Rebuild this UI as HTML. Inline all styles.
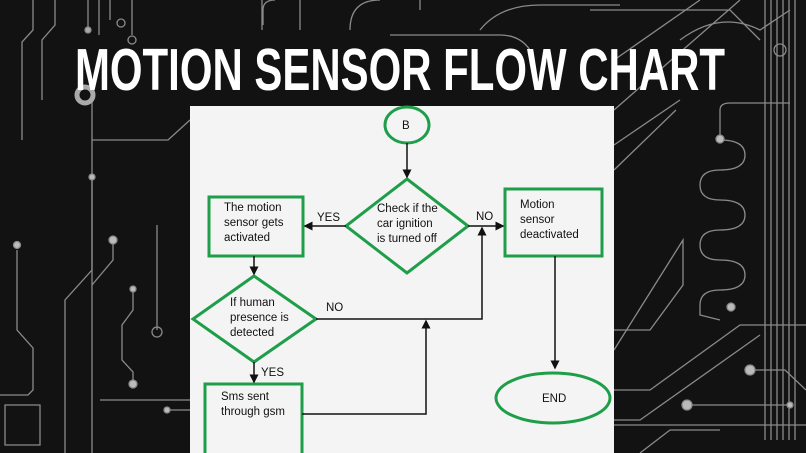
<!DOCTYPE html>
<html><head><meta charset="utf-8"><style>
html,body{margin:0;padding:0;background:#111;}
svg{display:block}
</style></head><body>
<svg width="806" height="453" viewBox="0 0 806 453" xmlns="http://www.w3.org/2000/svg">
<rect width="806" height="453" fill="#121212"/>
<g fill="none" stroke="#8a8a8a" stroke-width="1.3">
<path d="M33 0 V30 L22 42 V140"/>
<path d="M42 100 V40 L55 25 V0"/>
<path d="M88 0 V30"/><circle cx="88" cy="30" r="3" fill="#aaa"/>
<path d="M99 0 V35"/><path d="M110 0 V20"/><circle cx="121" cy="23" r="4"/>
<path d="M132 0 V35"/><circle cx="132" cy="40" r="4"/>
<path d="M17 250 V330 L33 348 V390 L28 395 H0"/><circle cx="17" cy="245" r="3.5" fill="#bbb"/>
<path d="M92 100 V270 L65 300 V453"/>
<path d="M92 178 V453"/><circle cx="92" cy="177" r="3" fill="#bbb"/>
<path d="M113 240 V260 L92 285"/><circle cx="113" cy="240" r="4" fill="#bbb"/>
<path d="M133 289 V310 L122 325 V360 L133 372 V383"/><circle cx="133" cy="384" r="4" fill="#bbb"/><circle cx="133" cy="289" r="3" fill="#bbb"/>
<path d="M157 225 V330"/><circle cx="157" cy="332" r="5"/>
<path d="M92 140 H168 L190 120"/>
<path d="M100 400 H190"/><path d="M167 410 H190"/><circle cx="167" cy="410" r="3" fill="#bbb"/>
<path d="M5 405 H40 V445 H5 Z"/>
<path d="M262 0 V30 M300 0 V30 M420 0 V10"/>
<path d="M350 30 Q350 0 380 0"/>
<path d="M480 30 Q500 5 540 5 H620"/>
<path d="M263 25 V10 Q263 0 275 0"/>
<path d="M390 35 L500 35 Q520 35 530 50"/>
<path d="M590 10 H730 L760 40"/><circle cx="780" cy="50" r="6"/>
<path d="M614 60 L700 0"/><path d="M614 110 L740 0"/><path d="M614 145 L680 100"/>
<path d="M614 170 L676 110"/>
<path d="M680 40 Q720 10 760 30 L790 10"/>
<path d="M720 140 V110 Q720 103 730 103 H790"/>
<path d="M765 0 V440 M771 0 V440 M777 0 V440 M783 0 V440 M789 0 V440 M795 0 V440"/>
<path d="M720 140 Q745 140 745 155 Q745 170 720 170 Q700 170 700 185 Q700 200 720 200 Q745 200 745 215 Q745 230 720 230 Q700 230 700 245 Q700 260 720 260 Q745 260 745 275 Q745 290 720 290 Q700 290 700 305 V315 L720 320"/>
<circle cx="720" cy="139" r="4" fill="#bbb"/><circle cx="731" cy="307" r="4" fill="#bbb"/>
<path d="M614 350 L683 240 V285 L650 330 H614"/>
<path d="M614 390 H650 L740 325 H806"/>
<path d="M614 420 H640 L760 335"/>
<path d="M690 405 H790"/><circle cx="687" cy="405" r="5" fill="#bbb"/><circle cx="790" cy="405" r="3" fill="#bbb"/>
<path d="M614 425 H806"/><path d="M640 453 L670 430 H720"/>
<circle cx="750" cy="370" r="5" fill="#bbb"/><path d="M755 370 H785 L806 390"/>
</g>
<circle cx="85" cy="95" r="8" fill="none" stroke="#aaa" stroke-width="5"/>
<rect x="190" y="106" width="424" height="347" fill="#f4f4f4"/>
<text x="75" y="90" textLength="650" lengthAdjust="spacingAndGlyphs" font-family="'Liberation Sans Narrow','Liberation Sans',sans-serif" font-weight="bold" font-size="59" fill="#fff">MOTION SENSOR FLOW CHART</text>
<defs><marker id="a" markerWidth="6" markerHeight="6" refX="5" refY="3" orient="auto"><path d="M0 0 L6 3 L0 6 Z" fill="#111"/></marker></defs>
<g fill="none" stroke="#1f9e4a" stroke-width="3">
<ellipse cx="407" cy="125" rx="22" ry="18"/>
<path d="M407 179 L468 226 L407 273 L346 226 Z"/>
<rect x="209" y="197" width="94" height="59"/>
<rect x="505" y="189" width="97" height="67"/>
<ellipse cx="553" cy="398" rx="57" ry="25"/>
<path d="M254 276 L316 319 L254 362 L193 319 Z"/>
<rect x="205" y="384" width="97" height="75"/>
</g>
<g fill="none" stroke="#111" stroke-width="1.5">
<path d="M407 143 V177" marker-end="url(#a)"/>
<path d="M346 226 H305" marker-end="url(#a)"/>
<path d="M468 226 H503" marker-end="url(#a)"/>
<path d="M555 256 V368" marker-end="url(#a)"/>
<path d="M254 256 V274" marker-end="url(#a)"/>
<path d="M254 362 V382" marker-end="url(#a)"/>
<path d="M316 319 H482 V228" marker-end="url(#a)"/>
<path d="M302 414 H426 V321" marker-end="url(#a)"/>
</g>
<g font-family="'Liberation Sans',sans-serif" font-size="11.5" fill="#111">
<text x="402" y="129">B</text>
<text x="377" y="212">Check if the</text>
<text x="377" y="227">car ignition</text>
<text x="377" y="242">is turned off</text>
<text x="224" y="211">The motion</text>
<text x="224" y="226">sensor gets</text>
<text x="224" y="241">activated</text>
<text x="520" y="208">Motion</text>
<text x="520" y="223">sensor</text>
<text x="520" y="238">deactivated</text>
<text x="230" y="306">If human</text>
<text x="230" y="321">presence is</text>
<text x="230" y="336">detected</text>
<text x="221" y="400">Sms sent</text>
<text x="221" y="415">through gsm</text>
<text x="542" y="402">END</text>
<text x="317" y="221">YES</text>
<text x="476" y="220">NO</text>
<text x="326" y="311">NO</text>
<text x="261" y="376">YES</text>
</g>
</svg>
</body></html>
